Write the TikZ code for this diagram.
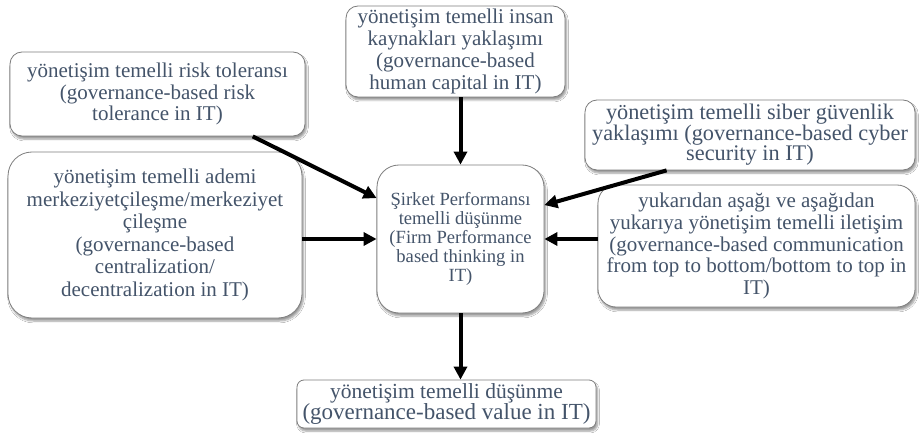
\documentclass[tikz,border=0pt]{standalone}
\usepackage{fontspec}
\setmainfont{Liberation Serif}
\usetikzlibrary{arrows.meta,shadows.blur}
\definecolor{txt}{RGB}{68,84,106}
\definecolor{edge}{RGB}{125,125,125}
\tikzset{
  box/.style={draw=edge, line width=0.8pt, fill=white, align=center, inner sep=1pt,
    text=txt, font=\fontsize{21}{21.7}\selectfont,
    blur shadow={shadow xshift=1.5pt, shadow yshift=-3pt, shadow blur steps=6, shadow opacity=40}},
  arr/.style={line width=4pt, -{Triangle[length=13pt,width=13pt]}, black}
}
\begin{document}
\begin{tikzpicture}[x=1pt,y=-1pt]
\useasboundingbox[fill=white] (0,0) rectangle (922,433);
\node[box, minimum width=219pt, minimum height=91pt, rounded corners=12pt] (insan) at (455.5,51.5)
  {yönetişim temelli insan\\kaynakları yaklaşımı\\(governance-based\\human capital in IT)};
\node[box, minimum width=295pt, minimum height=84pt, rounded corners=12pt] (risk) at (157.5,94)
  {yönetişim temelli risk toleransı\\(governance-based risk\\tolerance in IT)};
\node[box, minimum width=330pt, minimum height=70pt, rounded corners=12pt,
  font=\fontsize{22.3}{20.5}\selectfont] (siber) at (750,135)
  {yönetişim temelli siber güvenlik\\yaklaşımı (governance-based cyber\\security in IT)};
\node[box, minimum width=294pt, minimum height=166pt, rounded corners=24pt,
  font=\fontsize{21}{22.5}\selectfont] (ademi) at (155,235)
  {yönetişim temelli ademi\\merkeziyetçileşme/merkeziyet\\çileşme\\(governance-based\\centralization/\\decentralization in IT)};
\node[box, minimum width=167pt, minimum height=148pt, rounded corners=22pt,
  font=\fontsize{18.6}{18.8}\selectfont] (center) at (460.5,239)
  {Şirket Performansı\\temelli düşünme\\(Firm Performance\\based thinking in\\IT)};
\node[box, minimum width=317pt, minimum height=122pt, rounded corners=18pt,
  font=\fontsize{21}{21.7}\selectfont] (yuk) at (756.5,246)
  {yukarıdan aşağı ve aşağıdan\\yukarıya yönetişim temelli iletişim\\(governance-based communication\\from top to bottom/bottom to top in\\IT)};
\node[box, minimum width=299pt, minimum height=48pt, rounded corners=7pt, inner sep=0.5pt,
  font=\fontsize{21.5}{21}\selectfont] (bottom) at (446.5,404)
  {yönetişim temelli düşünme\\{\fontsize{23}{21}\selectfont(governance-based value in IT)}};
\draw[arr] (insan.south -| center.north) -- (center.north);
\draw[arr] (risk.-24) -- (center.154);
\draw[arr] (ademi.east |- center.west) -- (center.west);
\draw[arr] (siber.203) -- (center.22);
\draw[arr] (yuk.west |- center.east) -- (center.east);
\draw[arr] (center.south) -- (bottom.north -| center.south);
\end{tikzpicture}
\end{document}
